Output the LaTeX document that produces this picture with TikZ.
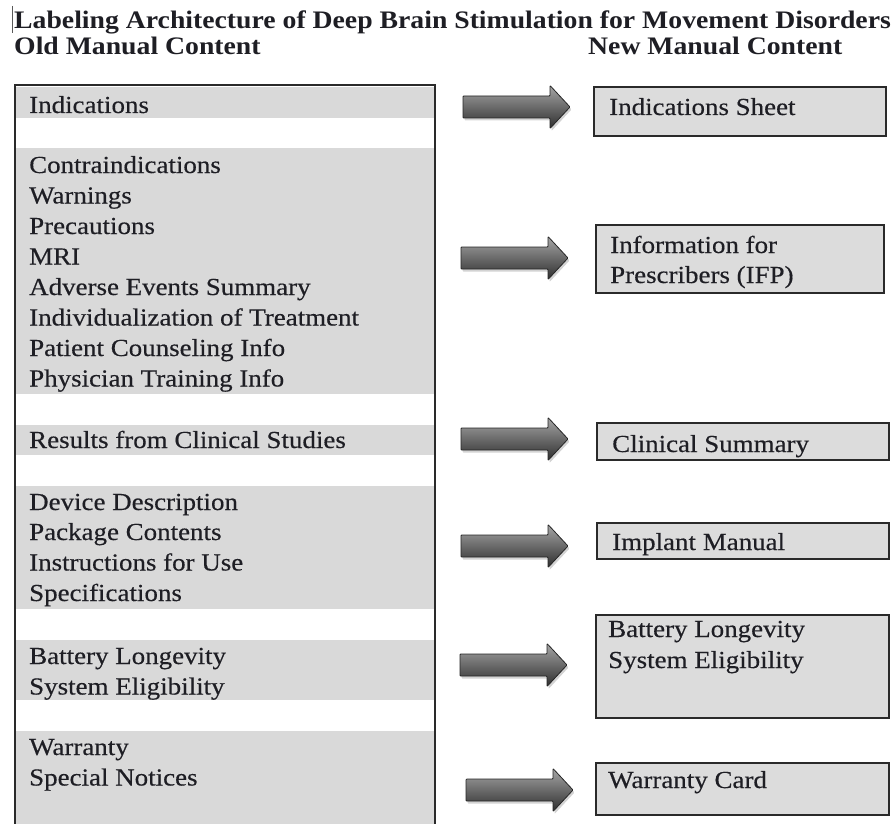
\documentclass[tikz,border=0pt]{standalone}
\usepackage{fontspec}
\setmainfont{Liberation Serif}[FakeStretch=1.1]
\newfontfamily\itemfont{Liberation Serif}[FakeStretch=1.1, FakeBold=0.35]
\usetikzlibrary{shadows}
\definecolor{bandgray}{HTML}{D9D9D9}
\definecolor{boxgray}{HTML}{DCDCDC}
\definecolor{ink}{HTML}{1E1E24}
\definecolor{edge}{HTML}{2A2A2A}
\tikzset{
  headtext/.style={anchor=base west, inner sep=0pt, text=ink, font=\fontsize{25.2}{30}\selectfont\bfseries},
  itemtext/.style={anchor=base west, inner sep=0pt, text=ink, font=\itemfont\fontsize{24.5}{29}\selectfont},
  band/.style={fill=bandgray, draw=none},
  newbox/.style={draw=edge, line width=1.4pt, fill=boxgray},
  fatarrow/.pic={
    \path[draw=black!85, line width=0.8pt, top color=black!35, bottom color=black!82,
          rounded corners=0.8pt,
          drop shadow={opacity=0.35, shadow xshift=1.5pt, shadow yshift=-2.5pt}]
      (0,-11) -- (87,-11) -- (87,-21.5) -- (107,0) -- (87,21.5) -- (87,11) -- (0,11) -- cycle;
  }
}
\begin{document}
\begin{tikzpicture}[x=1pt, y=-1pt]
  \useasboundingbox (0,0) rectangle (891,824);

  % headings
  \draw[line width=0.8pt, black!65] (12.5,6) -- (12.5,33);
  \node[headtext] (title) at (14,29) {Labeling Architecture of Deep Brain Stimulation for Movement Disorders};
  \node[headtext] (oldhead) at (14,55) {Old Manual Content};
  \node[headtext] (newhead) at (588,55) {New Manual Content};

  % old manual: shaded groups inside one framed column
  \foreach \ya/\yb in {87/118, 148/394, 425/455, 486/609, 640/700, 731/830}
    \fill[band] (16,\ya) rectangle (434,\yb);
  \draw[edge, line width=1.3pt] (15,830) -- (15,85) -- (435,85) -- (435,830);

  \foreach \txt/\yy [count=\i] in {
      Indications/113,
      Contraindications/173,
      Warnings/203.5,
      Precautions/234,
      MRI/264.5,
      Adverse Events Summary/295,
      Individualization of Treatment/325.5,
      Patient Counseling Info/356,
      Physician Training Info/386.5,
      Results from Clinical Studies/448,
      Device Description/510,
      Package Contents/540,
      Instructions for Use/570.5,
      Specifications/601,
      Battery Longevity/664,
      System Eligibility/694.5,
      Warranty/755,
      Special Notices/785.5}
    \node[itemtext] (old\i) at (29,\yy) {\txt};

  % new manual documents
  \path[newbox] (594,87) rectangle (886,136);
  \node[itemtext] (new1) at (609,115) {Indications Sheet};

  \path[newbox] (596,225) rectangle (884,293);
  \node[itemtext] (new2a) at (610,253) {Information for};
  \node[itemtext] (new2b) at (610,283) {Prescribers (IFP)};

  \path[newbox] (597,423) rectangle (889,460);
  \node[itemtext] (new3) at (612,452) {Clinical Summary};

  \path[newbox] (597,523) rectangle (889,559);
  \node[itemtext] (new4) at (612,550) {Implant Manual};

  \path[newbox] (596,615) rectangle (889,718);
  \node[itemtext] (new5a) at (608,637) {Battery Longevity};
  \node[itemtext] (new5b) at (608,668) {System Eligibility};

  \path[newbox] (596,763) rectangle (889,815);
  \node[itemtext] (new6) at (608,788) {Warranty Card};

  % block arrows between the columns
  \pic (arr1) at (463,107) {fatarrow};
  \pic (arr2) at (461,258) {fatarrow};
  \pic (arr3) at (461,439) {fatarrow};
  \pic (arr4) at (461,546) {fatarrow};
  \pic (arr5) at (460,665) {fatarrow};
  \pic (arr6) at (466,790) {fatarrow};
\end{tikzpicture}
\end{document}
